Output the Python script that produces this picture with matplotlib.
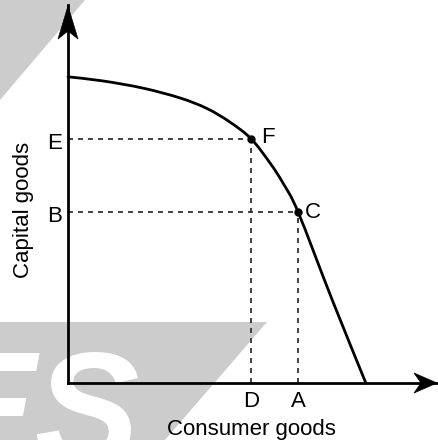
import matplotlib
matplotlib.use("Agg")
import matplotlib.pyplot as plt
import numpy as np
from matplotlib.patches import Polygon, PathPatch
from matplotlib.path import Path
from matplotlib.transforms import IdentityTransform

# ---- data ----
consumer_goods = [0, 0.95, 2.03, 3.03, 3.76, 4.38, 4.95, 5.46, 5.81, 6.22, 7.14, 8.05]
capital_goods = [8.10, 7.99, 7.80, 7.54, 7.26, 6.90, 6.46, 5.82, 5.29, 4.52, 2.20, 0.0]
point_names = ["F", "C"]
point_x = [4.95, 6.22]
point_y = [6.46, 4.52]
x_tick_names = ["D", "A"]
y_tick_names = ["E", "B"]

W, H = 438, 440
plt.rcParams["font.family"] = ["Liberation Sans", "DejaVu Sans"]
plt.rcParams["lines.scale_dashes"] = False

fig = plt.figure(figsize=(W / 100, H / 100), dpi=100)
fig.patch.set_facecolor("white")

ox, oy = 68, 383
ax = fig.add_axes([ox / W, (H - oy) / H, (W - ox) / W, (oy - 5) / H])
ax.set_xlim(0, 10)
ax.set_ylim(0, 10)
ax.patch.set_alpha(0)
ax.set_zorder(1)
for s in ["top", "right"]:
    ax.spines[s].set_visible(False)
for s in ["left", "bottom"]:
    ax.spines[s].set_linewidth(2)
    ax.spines[s].set_color("black")
ax.set_xticks([])
ax.set_yticks([])

# watermark background shapes
grey = "#cccccc"
tri = Polygon([(0, H), (85, H), (0, H - 100)], closed=True, transform=IdentityTransform(),
              facecolor=grey, edgecolor="none", zorder=-5)
fig.add_artist(tri)
trap = Polygon([(0, H - 322), (267, H - 322), (165, 0), (0, 0)], closed=True,
               transform=IdentityTransform(), facecolor=grey, edgecolor="none", zorder=-5)
fig.add_artist(trap)
fig.text(140, -22, "ES", transform=IdentityTransform(), fontsize=113,
         fontweight="bold", fontstyle="italic", color="white",
         ha="right", va="baseline", zorder=-4)

# smooth curve through the read points (Catmull-Rom -> cubic Bezier)
pts = np.column_stack([consumer_goods, capital_goods])
verts = [tuple(pts[0])]
codes = [Path.MOVETO]
n = len(pts)
for i in range(n - 1):
    p0 = pts[i - 1] if i > 0 else pts[i]
    p1 = pts[i]
    p2 = pts[i + 1]
    p3 = pts[i + 2] if i + 2 < n else pts[i + 1]
    c1 = p1 + (p2 - p0) / 6.0
    c2 = p2 - (p3 - p1) / 6.0
    verts += [tuple(c1), tuple(c2), tuple(p2)]
    codes += [Path.CURVE4] * 3
curve = PathPatch(Path(verts, codes), facecolor="none", edgecolor="black", lw=2,
                  capstyle="round", joinstyle="round", zorder=4, clip_on=False)
ax.add_patch(curve)

for px_, py_ in zip(point_x, point_y):
    ax.plot([0, px_], [py_, py_], color="#333333", lw=1.3, dashes=(3.6, 3.6), zorder=2)
    ax.plot([px_, px_], [0, py_], color="#333333", lw=1.3, dashes=(3.6, 3.6), zorder=2)

ax.plot(point_x, point_y, "o", color="black", ms=5, zorder=5, clip_on=False)

fs = 16
offsets_px = [(10, -4), (7, -6)]
for name, px_, py_, off in zip(point_names, point_x, point_y, offsets_px):
    ax.annotate(name, (px_, py_), xytext=off, textcoords="offset pixels",
                ha="left", va="baseline", fontsize=fs)
for name, px_ in zip(x_tick_names, point_x):
    ax.annotate(name, (px_, 0), xytext=(0, -24), textcoords="offset pixels",
                ha="center", va="baseline", fontsize=fs, annotation_clip=False)
for name, py_ in zip(y_tick_names, point_y):
    ax.annotate(name, (0, py_), xytext=(-6, -10), textcoords="offset pixels",
                ha="right", va="baseline", fontsize=fs, annotation_clip=False)

ax.annotate("Consumer goods", (0.497, 0), xycoords="axes fraction", xytext=(0, -52),
            textcoords="offset pixels", ha="center", va="baseline", fontsize=fs,
            annotation_clip=False)
ax.annotate("Capital goods", (0, 0.458), xycoords="axes fraction", xytext=(-44, 0),
            textcoords="offset pixels", ha="center", va="center", rotation=90,
            fontsize=fs, annotation_clip=False)

def head(tip, back_l, back_r, notch):
    return Polygon([tip, back_l, notch, back_r], closed=True, transform=IdentityTransform(),
                   facecolor="black", edgecolor="black", lw=0.5, zorder=6)

yx = ox
fig.add_artist(head((yx, H - 6), (yx - 10, H - 39), (yx + 10, H - 39), (yx, H - 31)))
ay = H - oy
fig.add_artist(head((W - 1, ay), (W - 24, ay + 10), (W - 24, ay - 10), (W - 17, ay)))

fig.savefig("out.png", dpi=100)
